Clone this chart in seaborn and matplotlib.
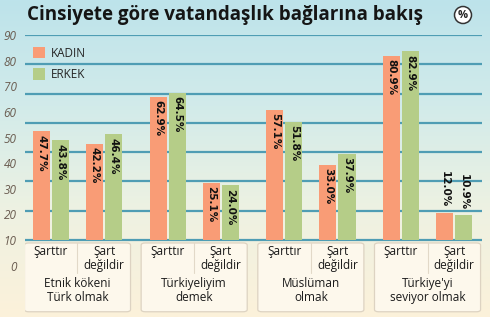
import numpy as np
import pandas as pd
import matplotlib
matplotlib.use("Agg")
import matplotlib.pyplot as plt
from matplotlib.colors import LinearSegmentedColormap
from matplotlib.patches import FancyBboxPatch, Ellipse
import seaborn as sns

# ---- data ----
groups = ["Etnik kökeni\nTürk olmak", "Türkiyeliyim\ndemek", "Müslüman\nolmak", "Türkiye'yi\nseviyor olmak"]
answers = ["Şarttır", "Şart\ndeğildir"]
kadin = [47.7, 42.2, 62.9, 25.1, 57.1, 33.0, 80.9, 12.0]
erkek = [43.8, 46.4, 64.5, 24.0, 51.8, 37.9, 82.9, 10.9]
series = ["KADIN", "ERKEK"]
tick_labels = [90, 80, 70, 60, 50, 40, 30, 20, 10, 0]

# layout positions of the 8 answer slots (two per group, wider gap between groups)
slot_pos = [0.0, 1.0, 2.2, 3.2, 4.4, 5.4, 6.6, 7.6]

rows = []
for i, p in enumerate(slot_pos):
    rows.append({"pos": p, "value": kadin[i], "cins": series[0]})
    rows.append({"pos": p, "value": erkek[i], "cins": series[1]})
df = pd.DataFrame(rows)

sns.set_theme(style="white")
plt.rcParams["font.family"] = ["Open Sans", "DejaVu Sans"]

fig = plt.figure(figsize=(4.9, 3.17), dpi=100)

# background gradient
bg = fig.add_axes([0, 0, 1, 1], zorder=-5)
cmap = LinearSegmentedColormap.from_list("bg", ["#bde3eb", "#d2ebea", "#eef2e2", "#fcf1da"])
grad = np.linspace(0, 1, 256).reshape(-1, 1)
bg.imshow(grad, aspect="auto", cmap=cmap, extent=[0, 1, 0, 1], origin="upper")
bg.set_axis_off()

ax = fig.add_axes([0.051, 0.0, 0.933, 0.8896])
ax.set_facecolor("none")

ymin, ymax = -33.8, 90
xmin, xmax = -0.49, 8.13

# decorative grid lines (8 evenly spaced lines from 0 to 90)
ax.hlines(np.linspace(0, 90, 8), xmin, xmax, color="#4f9db4", lw=1.6, zorder=0.5)

palette = {"KADIN": "#f99c76", "ERKEK": "#b5cd88"}
sns.barplot(data=df, x="pos", y="value", hue="cins", native_scale=True,
            palette=palette, width=0.72, gap=0.1, saturation=1, ax=ax,
            zorder=2, errorbar=None, linewidth=0)

# value labels
for cont in ax.containers:
    for bar in cont:
        h = bar.get_height()
        cx = bar.get_x() + bar.get_width() / 2
        txt = f"{h:.1f}%"
        if h > 20:
            ax.text(cx, h - 1.5, txt, rotation=-90, ha="center", va="top",
                    fontsize=7.5, fontweight="bold", color="#111111", zorder=3,
                    family=["DejaVu Sans"])
        else:
            ax.text(cx, h + 2.2, txt, rotation=-90, ha="center", va="bottom",
                    fontsize=7.5, fontweight="bold", color="#111111", zorder=3,
                    family=["DejaVu Sans"])

# category panels
for g in range(4):
    c = (slot_pos[2 * g] + slot_pos[2 * g + 1]) / 2
    panel = FancyBboxPatch((c - 1.0, -31.5), 2.0, 30.2,
                           boxstyle="round,pad=0,rounding_size=0.08",
                           mutation_aspect=12,
                           facecolor="#fdf8ec", edgecolor="#ddd3c2", lw=0.9, zorder=1)
    ax.add_patch(panel)
    ax.plot([c, c], [-1.3, -14.5], color="#e2d9c8", lw=0.8, zorder=1.5)
    ax.text(c, -16.2, groups[g], ha="center", va="top", fontsize=8.5,
            color="#1a1a1a", linespacing=1.15)
for i, p in enumerate(slot_pos):
    ax.text(p, -2.4, answers[i % 2], ha="center", va="top", fontsize=8.5,
            color="#1a1a1a", linespacing=1.05)

# y tick labels (decoratively spaced)
tick_pos = [90 - (90 - L) * 1.125 for L in tick_labels]
ax.set_yticks(tick_pos, [str(L) for L in tick_labels])
ax.tick_params(axis="y", length=0, pad=6, labelsize=8.5, labelcolor="#6a5c50")
for t in ax.get_yticklabels():
    t.set_fontstyle("italic")
ax.set_xticks([])
ax.set_xlabel("")
ax.set_ylabel("")
ax.set_xlim(xmin, xmax)
ax.set_ylim(ymin, ymax)
for s in ax.spines.values():
    s.set_visible(False)

# legend
handles, labels = ax.get_legend_handles_labels()
ax.legend(handles, labels, loc="upper left", bbox_to_anchor=(0.008, 0.975),
          frameon=False, fontsize=8.5, handlelength=1.0, handleheight=1.1,
          handletextpad=0.5, labelspacing=0.7, borderaxespad=0)

# title and % badge
fig.text(0.055, 0.952, "Cinsiyete göre vatandaşlık bağlarına bakış", ha="left", va="center",
         fontsize=13.5, fontweight="bold", color="#151515")
badge = Ellipse((463 / 490, 1 - 15 / 317), 17 / 490, 17 / 317, transform=fig.transFigure,
                facecolor="white", edgecolor="#333333", lw=1.1)
fig.patches.append(badge)
fig.text(463 / 490, 1 - 15 / 317, "%", ha="center", va="center", fontsize=8,
         fontweight="bold", color="#222222")

fig.savefig("out.png", dpi=100)
